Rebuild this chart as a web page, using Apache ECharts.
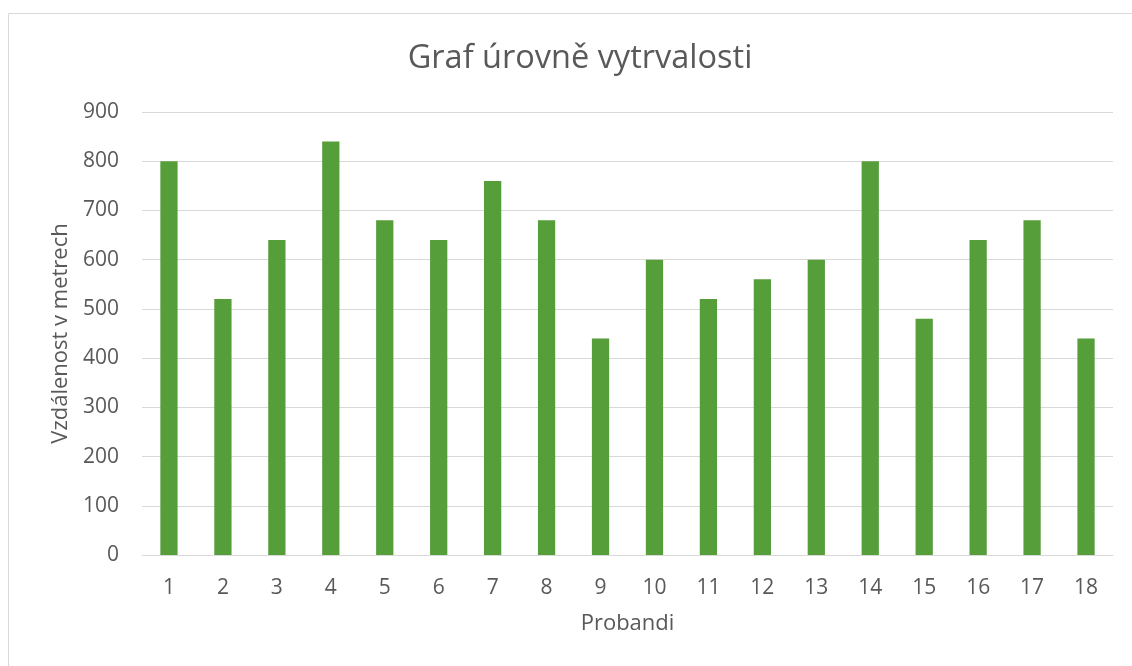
<!DOCTYPE html>
<html>
<head>
<meta charset="utf-8">
<script src="https://cdn.jsdelivr.net/npm/echarts@6/dist/echarts.min.js"></script>
<style>
html,body{margin:0;padding:0;background:#fff;}
#c{width:1132px;height:666px;}
</style>
</head>
<body>
<div id="c"></div>
<script>
var categories = ['1','2','3','4','5','6','7','8','9','10','11','12','13','14','15','16','17','18'];
var values = [800, 520, 640, 840, 680, 640, 760, 680, 440, 600, 520, 560, 600, 800, 480, 640, 680, 440];
var titleText = 'Graf úrovně vytrvalosti';
var xName = 'Probandi';
var yName = 'Vzdálenost v metrech';

var font = '"Open Sans", sans-serif';
var chart = echarts.init(document.getElementById('c'), null, {renderer: 'canvas'});
chart.setOption({
  animation: false,
  backgroundColor: '#ffffff',
  graphic: [{
    type: 'rect',
    shape: {x: 8.5, y: 13.5, width: 1200, height: 700},
    style: {fill: 'none', stroke: '#d9d9d9', lineWidth: 1},
    silent: true
  }],
  title: {
    text: titleText,
    left: 575,
    textAlign: 'center',
    top: 37,
    textStyle: {fontFamily: font, fontSize: 32.5, fontWeight: 'normal', color: '#595959'}
  },
  grid: {left: 142, right: 19, top: 112, bottom: 111, containLabel: false},
  xAxis: {
    type: 'category',
    data: categories,
    name: xName,
    nameLocation: 'middle',
    nameGap: 58,
    nameTextStyle: {fontFamily: font, fontSize: 22, color: '#595959'},
    axisLine: {show: true, lineStyle: {color: '#d9d9d9', width: 1}},
    axisTick: {show: false},
    axisLabel: {fontFamily: font, fontSize: 21, color: '#595959', margin: 23, interval: 0}
  },
  yAxis: {
    type: 'value',
    min: 0,
    max: 900,
    interval: 100,
    name: yName,
    nameLocation: 'middle',
    nameGap: 68,
    nameTextStyle: {fontFamily: font, fontSize: 22, color: '#595959'},
    axisLine: {show: false},
    axisTick: {show: false},
    splitLine: {lineStyle: {color: '#d9d9d9', width: 1}},
    axisLabel: {fontFamily: font, fontSize: 21, color: '#595959', margin: 23}
  },
  series: [{
    type: 'bar',
    data: values,
    barWidth: '32%',
    itemStyle: {color: '#559E3A'}
  }]
});
</script>
</body>
</html>
